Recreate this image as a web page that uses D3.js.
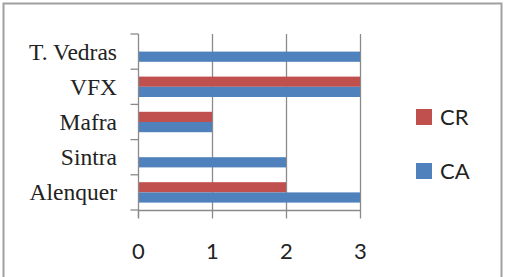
<!DOCTYPE html>
<html><head><meta charset="utf-8">
<script src="https://cdn.jsdelivr.net/npm/d3@7"></script>
<style>html,body{margin:0;padding:0;background:#fff;}svg{display:block;}</style>
</head><body>
<svg id="c" width="509" height="277"></svg>
<script>
const categories = ["Alenquer", "Sintra", "Mafra", "VFX", "T. Vedras"];
const seriesNames = ["CR", "CA"];
const valuesCR = [2, 0, 1, 3, 0];
const valuesCA = [3, 2, 1, 3, 3];
const xTicks = [0, 1, 2, 3];
const colors = {CR: "#C0504D", CA: "#4F81BD"};

(function () {
const svg = d3.select("#c");
// outer frame
svg.append("rect").attr("x", 3.5).attr("y", 3.5).attr("width", 498).attr("height", 290)
  .attr("fill", "#fff").attr("stroke", "#a0a0a0").attr("stroke-width", 2);

const pLeft = 138, pRight = 360, pTop = 34, pBottom = 210;
const x = d3.scaleLinear().domain([0, 3]).range([pLeft, pRight]);
// categories bottom to top
const y = d3.scaleBand().domain(categories.slice().reverse()).range([pTop, pBottom]).paddingInner(0).paddingOuter(0);
const inner = d3.scaleBand().domain(seriesNames).range([0, y.bandwidth()]).paddingInner(0).paddingOuter(0.725);

// gridlines
svg.append("g").selectAll("line").data(xTicks.slice(1)).join("line")
  .attr("x1", d => x(d) + 0.5).attr("x2", d => x(d) + 0.5)
  .attr("y1", pTop).attr("y2", pBottom)
  .attr("stroke", "#8a8a8a").attr("stroke-width", 1.3);

// bars
const data = [];
categories.forEach((c, i) => {
  data.push({cat: c, s: "CR", v: valuesCR[i]});
  data.push({cat: c, s: "CA", v: valuesCA[i]});
});
svg.append("g").selectAll("rect").data(data.filter(d => d.v > 0)).join("rect")
  .attr("x", x(0)).attr("y", d => y(d.cat) + inner(d.s))
  .attr("width", d => x(d.v) - x(0)).attr("height", inner.bandwidth())
  .attr("fill", d => colors[d.s]);

// y axis
const yAxisG = svg.append("g").attr("transform", `translate(${pLeft + 0.5},0)`);
yAxisG.append("line").attr("x1", 0).attr("x2", 0).attr("y1", pTop).attr("y2", pBottom + 8).attr("stroke", "#8a8a8a").attr("stroke-width", 1.3);
const yTickPos = d3.range(categories.length + 1).map(i => pTop + i * y.step());
yAxisG.selectAll("line.t").data(yTickPos).join("line").attr("class", "t")
  .attr("x1", -8).attr("x2", 0).attr("y1", d => d).attr("y2", d => d)
  .attr("stroke", "#8a8a8a").attr("stroke-width", 1.3);
svg.append("g").selectAll("text").data(categories).join("text")
  .attr("x", pLeft - 21).attr("y", d => y(d) + y.bandwidth() / 2 + 8)
  .attr("text-anchor", "end")
  .attr("font-family", "Liberation Serif, Times New Roman, serif")
  .attr("font-size", 23.5).attr("fill", "#222")
  .text(d => d);

// x axis
const xAxisG = svg.append("g").attr("transform", `translate(0,${pBottom + 0.5})`);
xAxisG.append("line").attr("x1", pLeft).attr("x2", pRight + 1).attr("y1", 0).attr("y2", 0).attr("stroke", "#8a8a8a").attr("stroke-width", 1.3);
xAxisG.selectAll("line.t").data(xTicks).join("line").attr("class", "t")
  .attr("x1", d => x(d) + 0.5).attr("x2", d => x(d) + 0.5).attr("y1", 0).attr("y2", 8)
  .attr("stroke", "#8a8a8a").attr("stroke-width", 1.3);
xAxisG.selectAll("text").data(xTicks).join("text")
  .attr("x", d => x(d) + 0.5).attr("y", 48)
  .attr("text-anchor", "middle")
  .attr("font-family", "Lato, Open Sans, sans-serif")
  .attr("font-size", 22).attr("fill", "#222")
  .text(d => d);

// legend
const lg = svg.append("g");
const legendItems = [{s: "CR", y: 109}, {s: "CA", y: 163}];
lg.selectAll("rect").data(legendItems).join("rect")
  .attr("x", 416).attr("y", d => d.y).attr("width", 16).attr("height", 16)
  .attr("fill", d => colors[d.s]);
lg.selectAll("text").data(legendItems).join("text")
  .attr("x", 440).attr("y", d => d.y + 16)
  .attr("font-family", "Lato, Open Sans, sans-serif")
  .attr("font-size", 22).attr("fill", "#222")
  .text(d => d.s);
})();
</script>
</body></html>
